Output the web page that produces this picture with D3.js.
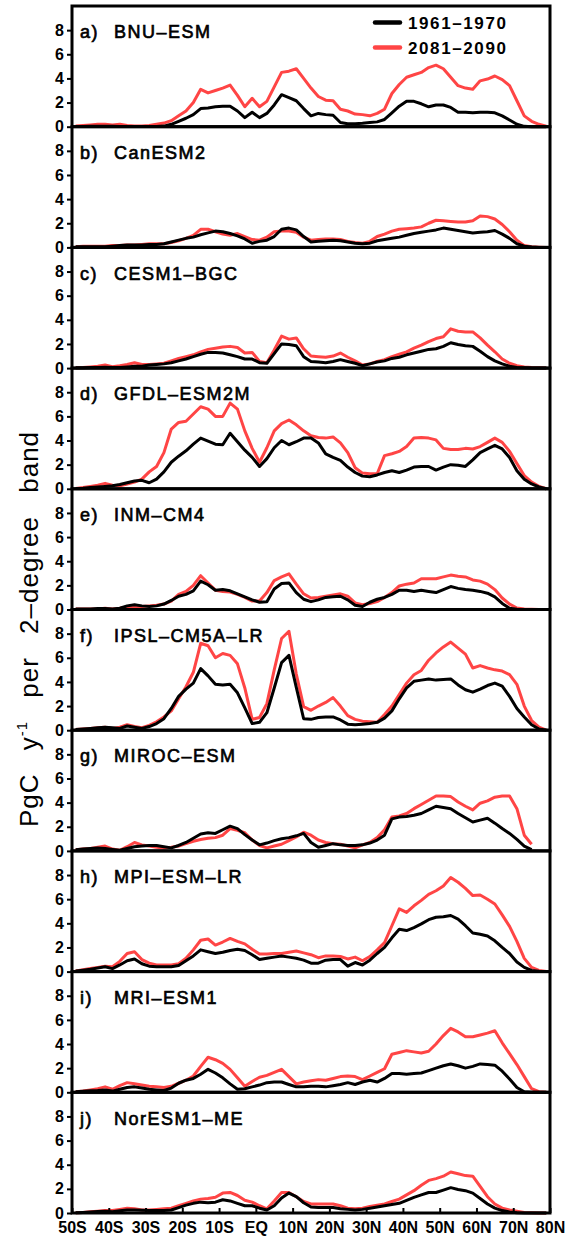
<!DOCTYPE html>
<html>
<head>
<meta charset="utf-8">
<script src="https://cdn.jsdelivr.net/npm/d3@7"></script>
<style>
  body { margin: 0; background: #fff; }
  svg { display: block; font-family: "Liberation Sans", Arial, sans-serif; }
</style>
</head>
<body>
<div id="grafica"></div>
<script>
// latitudes (centro de banda de 2 grados)
const lats = [-49,-47,-45,-43,-41,-39,-37,-35,-33,-31,-29,-27,-25,
  -23,-21,-19,-17,-15,-13,-11,-9,-7,-5,-3,-1,1,
  3,5,7,9,11,13,15,17,19,21,23,25,27,
  29,31,33,35,37,39,41,43,45,47,49,51,53,
  55,57,59,61,63,65,67,69,71,73,75,77,79];

const xTicks = [-50,-40,-30,-20,-10,0,10,20,30,40,50,60,70,80];
const xLabels = ["50S","40S","30S","20S","10S","EQ","10N","20N","30N","40N","50N","60N","70N","80N"];
const yTicks = [0,2,4,6,8];

const letras = ["a)","b)","c)","d)","e)","f)","g)","h)","i)","j)"];
const modelos = ["BNU–ESM","CanESM2","CESM1–BGC","GFDL–ESM2M","INM–CM4","IPSL–CM5A–LR","MIROC–ESM","MPI–ESM–LR","MRI–ESM1","NorESM1–ME"];
const periodos = ["1961–1970","2081–2090"];

// PgC/año por banda, 1961-1970 (hist) y 2081-2090 (fut)
const hist_BNU = [0.02,0.02,0.03,0.03,0.03,0.03,0.02,0.02,0.02,0.02,0.02,0.02,0.05,
  0.2,0.45,0.7,1.0,1.5,1.55,1.65,1.7,1.7,1.3,0.75,1.2,0.75,
  1.1,1.8,2.65,2.4,2.15,1.5,0.9,1.1,1.0,0.95,0.35,0.25,0.25,
  0.28,0.35,0.4,0.6,1.15,1.7,2.1,2.1,1.9,1.65,1.8,1.8,1.6,
  1.2,1.2,1.15,1.2,1.2,1.15,0.9,0.55,0.2,0.03,0,0,0];
const fut_BNU = [0.05,0.1,0.15,0.2,0.2,0.15,0.2,0.1,0.05,0.05,0.1,0.2,0.3,
  0.5,0.9,1.3,2.0,3.1,2.8,3.0,3.2,3.45,2.6,1.65,2.35,1.65,
  2.1,3.3,4.5,4.6,4.8,4.0,3.2,2.5,2.2,2.15,1.45,1.3,1.05,
  1.0,0.9,1.1,1.45,2.75,3.5,4.1,4.3,4.5,4.9,5.1,4.8,4.1,
  3.4,3.2,3.1,3.8,3.95,4.2,3.9,3.4,2.15,0.9,0.45,0.2,0.05];

const hist_Can = [0.05,0.05,0.05,0.05,0.05,0.1,0.15,0.2,0.2,0.2,0.25,0.25,0.3,
  0.45,0.6,0.75,0.85,1.05,1.2,1.35,1.3,1.15,0.95,0.7,0.35,0.5,
  0.6,0.9,1.5,1.6,1.45,0.9,0.45,0.5,0.55,0.6,0.55,0.45,0.35,
  0.3,0.35,0.55,0.65,0.75,0.85,1.0,1.15,1.25,1.35,1.45,1.6,1.5,
  1.4,1.3,1.2,1.25,1.3,1.4,1.1,0.75,0.3,0.1,0.03,0,0];
const fut_Can = [0.05,0.1,0.1,0.1,0.1,0.15,0.15,0.2,0.2,0.25,0.3,0.3,0.3,
  0.4,0.55,0.75,1.0,1.5,1.5,1.3,1.1,1.0,1.15,0.9,0.65,0.6,
  0.85,1.3,1.35,1.35,1.25,0.85,0.6,0.65,0.7,0.7,0.65,0.5,0.4,
  0.35,0.5,0.9,1.1,1.35,1.5,1.55,1.6,1.7,2.0,2.25,2.2,2.15,
  2.1,2.1,2.2,2.6,2.55,2.35,1.9,1.3,0.6,0.15,0.05,0.02,0];

const hist_CESM = [0.02,0.03,0.05,0.05,0.08,0.05,0.05,0.1,0.15,0.15,0.25,0.3,0.35,
  0.45,0.6,0.75,0.95,1.15,1.3,1.3,1.25,1.1,0.95,0.75,0.75,0.45,
  0.4,1.2,2.0,1.95,1.85,0.95,0.55,0.5,0.45,0.55,0.7,0.55,0.4,
  0.2,0.35,0.5,0.6,0.8,0.9,1.1,1.25,1.4,1.55,1.6,1.8,2.1,
  1.95,1.85,1.8,1.4,0.95,0.6,0.35,0.15,0.05,0.02,0,0,0];
const fut_CESM = [0.03,0.05,0.1,0.15,0.25,0.12,0.2,0.3,0.45,0.3,0.3,0.35,0.4,
  0.6,0.8,0.95,1.1,1.35,1.55,1.65,1.75,1.8,1.7,1.25,1.3,0.55,
  0.45,1.5,2.65,2.4,2.5,1.6,1.0,0.95,0.9,1.0,1.25,0.9,0.6,
  0.25,0.35,0.55,0.7,0.95,1.15,1.35,1.65,1.9,2.2,2.45,2.6,3.25,
  3.05,3.0,3.0,2.5,1.9,1.35,0.75,0.4,0.2,0.1,0.05,0.02,0];

const hist_GFDL = [0.02,0.05,0.1,0.15,0.2,0.25,0.35,0.5,0.65,0.7,0.5,0.8,1.4,
  2.2,2.7,3.15,3.7,4.2,3.95,3.7,3.65,4.6,3.9,3.2,2.6,1.85,
  2.5,3.4,4.0,3.65,3.9,4.2,4.2,3.8,2.9,2.6,2.35,1.8,1.35,
  1.05,1.0,1.15,1.35,1.5,1.35,1.55,1.8,1.85,1.85,1.55,1.8,2.0,
  1.95,1.85,2.4,3.0,3.3,3.6,3.3,2.6,1.5,0.8,0.4,0.15,0];
const fut_GFDL = [0.03,0.1,0.2,0.3,0.45,0.3,0.25,0.4,0.55,0.8,1.4,1.85,3.0,
  4.95,5.5,5.6,6.2,6.8,6.6,6.0,6.0,7.1,6.6,4.8,3.35,2.2,
  3.4,4.8,5.4,5.7,5.3,4.8,4.4,4.25,4.2,4.3,3.8,3.0,1.75,
  1.3,1.25,1.25,2.75,2.9,3.1,3.5,4.2,4.25,4.2,4.05,3.35,3.25,
  3.25,3.35,3.3,3.5,3.85,4.2,3.85,3.1,2.1,1.1,0.55,0.2,0];

const hist_INM = [0.05,0.05,0.05,0.08,0.08,0.05,0.1,0.3,0.4,0.3,0.25,0.3,0.45,
  0.75,1.1,1.25,1.55,2.35,2.05,1.6,1.65,1.55,1.3,1.05,0.8,0.6,
  0.65,1.7,2.15,2.2,1.4,0.85,0.65,0.8,1.0,1.05,1.1,0.8,0.35,
  0.25,0.6,0.85,1.0,1.25,1.6,1.6,1.5,1.6,1.5,1.4,1.65,1.9,
  1.75,1.65,1.6,1.5,1.35,1.05,0.5,0.1,0.03,0,0,0,0];
const fut_INM = [0.05,0.05,0.05,0.05,0.1,0.05,0.1,0.2,0.25,0.25,0.3,0.35,0.45,
  0.7,1.25,1.5,2.0,2.8,2.2,1.6,1.5,1.45,1.25,1.0,0.7,0.7,
  1.4,2.4,2.7,2.95,2.1,1.3,0.95,1.0,1.1,1.2,1.3,1.1,0.55,
  0.4,0.5,0.65,1.0,1.4,1.95,2.1,2.2,2.55,2.55,2.55,2.7,2.85,
  2.75,2.7,2.45,2.35,2.1,1.65,0.95,0.45,0.12,0.05,0.02,0,0];

const hist_IPSL = [0.05,0.1,0.15,0.2,0.25,0.2,0.15,0.35,0.25,0.15,0.3,0.55,0.95,
  1.8,2.8,3.4,3.9,5.1,4.5,3.8,3.75,3.8,3.1,1.85,0.55,0.65,
  1.45,3.5,5.6,6.2,3.55,0.95,0.9,1.05,1.1,1.1,0.85,0.5,0.45,
  0.5,0.55,0.65,1.0,1.6,2.6,3.5,4.05,4.15,4.25,4.15,4.2,4.25,
  3.75,3.35,3.15,3.4,3.7,3.9,3.65,2.8,1.8,1.1,0.45,0.1,0];
const fut_IPSL = [0.05,0.1,0.15,0.2,0.25,0.15,0.25,0.45,0.3,0.2,0.4,0.7,1.1,
  1.6,2.6,3.6,4.8,7.2,7.0,6.0,6.35,6.2,5.5,3.5,0.9,1.05,
  2.2,5.0,7.6,8.2,4.65,1.95,1.65,2.0,2.3,2.7,2.0,1.2,0.9,
  0.75,0.7,0.65,1.3,2.0,2.95,3.9,4.6,4.95,5.8,6.4,6.9,7.3,
  6.8,6.3,5.15,5.35,5.15,5.0,4.9,4.6,3.8,2.0,0.8,0.25,0];

const hist_MIROC = [0.1,0.15,0.2,0.25,0.2,0.12,0.05,0.2,0.35,0.4,0.45,0.45,0.35,
  0.25,0.45,0.7,1.05,1.4,1.5,1.45,1.75,2.05,1.85,1.35,0.9,0.5,
  0.65,0.85,1.0,1.1,1.25,1.45,0.7,0.3,0.45,0.6,0.5,0.45,0.45,
  0.5,0.65,0.9,1.3,2.65,2.8,2.85,2.95,3.1,3.4,3.7,3.6,3.5,
  3.1,2.75,2.4,2.55,2.7,2.3,1.85,1.45,0.95,0.4,0.1,null,null];
const fut_MIROC = [0.1,0.15,0.2,0.3,0.4,0.15,0.05,0.35,0.7,0.5,0.4,0.3,0.25,
  0.3,0.4,0.6,0.8,0.95,1.05,1.1,1.3,1.85,1.7,1.5,0.9,0.45,
  0.25,0.4,0.55,0.85,1.15,1.55,1.3,0.9,0.7,0.6,0.55,0.4,0.25,
  0.5,0.7,1.1,1.75,2.8,2.9,3.1,3.5,3.85,4.2,4.55,4.55,4.5,
  4.05,3.7,3.4,3.95,4.15,4.45,4.55,4.55,3.5,1.3,0.55,null,null];

const hist_MPI = [0.05,0.12,0.2,0.3,0.4,0.25,0.55,0.9,1.05,0.65,0.45,0.4,0.4,
  0.4,0.5,0.9,1.3,1.8,1.65,1.5,1.6,1.75,1.85,1.75,1.4,1.0,
  1.1,1.2,1.3,1.2,1.1,0.95,0.7,0.7,0.95,1.0,1.0,0.45,0.75,
  0.55,0.95,1.5,2.0,2.8,3.5,3.4,3.65,3.95,4.3,4.5,4.55,4.65,
  4.35,3.8,3.2,3.1,2.95,2.55,2.0,1.5,0.8,0.35,0.1,0.03,0];
const fut_MPI = [0.05,0.15,0.25,0.35,0.45,0.4,0.85,1.5,1.65,1.0,0.7,0.55,0.55,
  0.55,0.65,1.1,1.8,2.6,2.7,2.2,2.45,2.75,2.5,2.3,1.85,1.45,
  1.45,1.5,1.5,1.6,1.7,1.55,1.4,1.15,1.3,1.3,1.25,1.05,1.2,
  0.9,1.25,1.8,2.4,3.8,5.2,4.9,5.45,5.9,6.4,6.7,7.1,7.8,
  7.4,6.9,6.3,6.35,6.0,5.6,4.7,3.75,2.5,1.1,0.35,0.1,0];

const hist_MRI = [0.05,0.08,0.12,0.15,0.2,0.1,0.25,0.4,0.45,0.35,0.25,0.2,0.15,
  0.35,0.75,1.0,1.15,1.5,1.9,1.6,1.2,0.7,0.25,0.3,0.45,0.6,
  0.8,0.85,0.85,0.65,0.45,0.45,0.5,0.5,0.45,0.55,0.65,0.8,0.65,
  0.85,1.0,0.85,1.15,1.55,1.55,1.5,1.55,1.6,1.8,2.0,2.2,2.35,
  2.2,2.0,2.15,2.35,2.3,2.25,1.75,1.1,0.4,0.05,0,0,0];
const fut_MRI = [0.05,0.1,0.2,0.3,0.45,0.25,0.55,0.8,0.7,0.6,0.5,0.45,0.4,
  0.5,0.75,1.0,1.35,2.15,2.9,2.7,2.4,1.9,1.2,0.5,0.9,1.25,
  1.4,1.65,1.9,1.3,0.7,0.85,0.95,1.05,1.0,1.15,1.3,1.35,1.3,
  1.05,1.35,1.65,1.95,3.15,3.3,3.45,3.35,3.25,3.4,4.0,4.7,5.3,
  5.0,4.6,4.6,4.75,4.9,5.1,4.1,3.2,2.3,1.3,0.3,0.05,0];

const hist_Nor = [0.02,0.05,0.08,0.12,0.15,0.1,0.18,0.25,0.25,0.22,0.2,0.2,0.2,
  0.25,0.45,0.65,0.8,0.9,0.85,0.9,1.1,1.0,0.8,0.6,0.6,0.4,
  0.25,0.6,1.25,1.65,1.35,0.85,0.5,0.45,0.45,0.45,0.35,0.3,0.25,
  0.3,0.4,0.5,0.6,0.7,0.8,1.05,1.3,1.5,1.7,1.7,1.9,2.1,
  1.95,1.85,1.65,1.2,0.75,0.4,0.2,0.08,0.02,0,0,0,0];
const fut_Nor = [0.02,0.05,0.1,0.15,0.2,0.2,0.3,0.4,0.35,0.25,0.25,0.3,0.35,
  0.4,0.6,0.8,1.0,1.15,1.2,1.3,1.65,1.7,1.45,1.05,0.9,0.6,
  0.35,1.0,1.7,1.7,1.35,0.95,0.75,0.75,0.75,0.75,0.6,0.4,0.35,
  0.4,0.55,0.65,0.75,0.95,1.15,1.5,1.85,2.3,2.7,2.85,3.05,3.4,
  3.25,3.1,3.05,2.2,1.35,0.75,0.4,0.25,0.15,0.05,0.02,0,0];

const historico = [hist_BNU, hist_Can, hist_CESM, hist_GFDL, hist_INM, hist_IPSL, hist_MIROC, hist_MPI, hist_MRI, hist_Nor];
const futuro = [fut_BNU, fut_Can, fut_CESM, fut_GFDL, fut_INM, fut_IPSL, fut_MIROC, fut_MPI, fut_MRI, fut_Nor];

const rojo = "#ff4545";

// dimensiones
const ancho = 573, alto = 1238;
const margenes = { top: 6, left: 72, right: 23 };
const altoPanel = 120.7;
const anchoPanel = ancho - margenes.left - margenes.right;

const svg = d3.select("#grafica")
  .append("svg")
  .attr("width", ancho)
  .attr("height", alto);

const x = d3.scaleLinear().domain([-50, 80]).range([margenes.left, margenes.left + anchoPanel]);
const y = d3.scaleLinear().domain([0, 10]).range([altoPanel, 0]);

const linea = d3.line()
  .defined((d) => d[1] != null)
  .x((d) => x(d[0]))
  .y((d) => y(d[1]));

modelos.forEach((modelo, i) => {
  const g = svg.append("g")
    .attr("transform", `translate(0, ${margenes.top + i * altoPanel})`);

  // lineas: futuro debajo, historico encima
  [[futuro[i], rojo], [historico[i], "#000"]].forEach(([serie, color]) => {
    g.append("path")
      .datum(d3.zip(lats, serie))
      .attr("d", linea)
      .attr("fill", "none")
      .attr("stroke", color)
      .attr("stroke-width", 3)
      .attr("stroke-linejoin", "round");
  });

  // eje y
  const ejeY = g.append("g")
    .attr("transform", `translate(${margenes.left}, 0)`)
    .call(d3.axisLeft(y).tickValues(yTicks).tickSize(5).tickPadding(3).tickSizeOuter(0));
  ejeY.select(".domain").remove();
  ejeY.selectAll("line").attr("stroke-width", 2);
  ejeY.selectAll("text")
    .attr("font-size", 16)
    .attr("font-weight", "bold")
    .attr("font-family", "Liberation Sans, Arial, sans-serif")
    .attr("fill", "#000");

  // marco
  g.append("rect")
    .attr("x", margenes.left)
    .attr("y", 0)
    .attr("width", anchoPanel)
    .attr("height", altoPanel)
    .attr("fill", "none")
    .attr("stroke", "#000")
    .attr("stroke-width", 3);

  // titulo del panel
  const titulo = g.append("text")
    .attr("x", 80)
    .attr("y", 32.3)
    .attr("font-size", 18)
    .attr("letter-spacing", "1.5px")
    .attr("stroke", "#000")
    .attr("stroke-width", 0.65)
    .attr("fill", "#000");
  titulo.append("tspan").text(letras[i]);
  titulo.append("tspan").attr("x", 114).text(modelo);

  // eje x solo en el ultimo panel
  if (i === modelos.length - 1) {
    const ejeX = g.append("g")
      .attr("transform", `translate(0, ${altoPanel})`)
      .call(d3.axisBottom(x).tickValues(xTicks).tickFormat((d, k) => xLabels[k]).tickSize(-5).tickPadding(9).tickSizeOuter(0));
    ejeX.select(".domain").remove();
    ejeX.selectAll("line").attr("stroke-width", 2);
    ejeX.selectAll("text")
      .attr("font-size", 16)
      .attr("font-weight", "bold")
      .attr("font-family", "Liberation Sans, Arial, sans-serif")
      .attr("fill", "#000");
  }

  // leyenda en el primer panel
  if (i === 0) {
    const ley = g.append("g");
    periodos.forEach((p, k) => {
      ley.append("line")
        .attr("x1", 375).attr("x2", 400)
        .attr("y1", 16.6 + k * 25).attr("y2", 16.6 + k * 25)
        .attr("stroke", k === 0 ? "#000" : rojo)
        .attr("stroke-width", 4.5)
        .attr("stroke-linecap", "round");
      ley.append("text")
        .attr("x", 408)
        .attr("y", 22.5 + k * 25)
        .attr("font-size", 17)
        .attr("font-weight", "bold")
        .attr("letter-spacing", "1.6px")
        .text(p);
    });
  }
});

// etiqueta del eje y
const etiquetaY = svg.append("text")
  .attr("transform", `translate(38, 629) rotate(-90)`)
  .attr("text-anchor", "middle")
  .attr("font-size", 26)
  .attr("letter-spacing", "1px")
  .attr("word-spacing", "15px")
  .attr("fill", "#000");
etiquetaY.append("tspan").text("PgC y");
etiquetaY.append("tspan").attr("font-size", 15).attr("dy", -11).text("-1");
etiquetaY.append("tspan").attr("dy", 11).text(" per 2–degree band");
</script>
</body>
</html>
